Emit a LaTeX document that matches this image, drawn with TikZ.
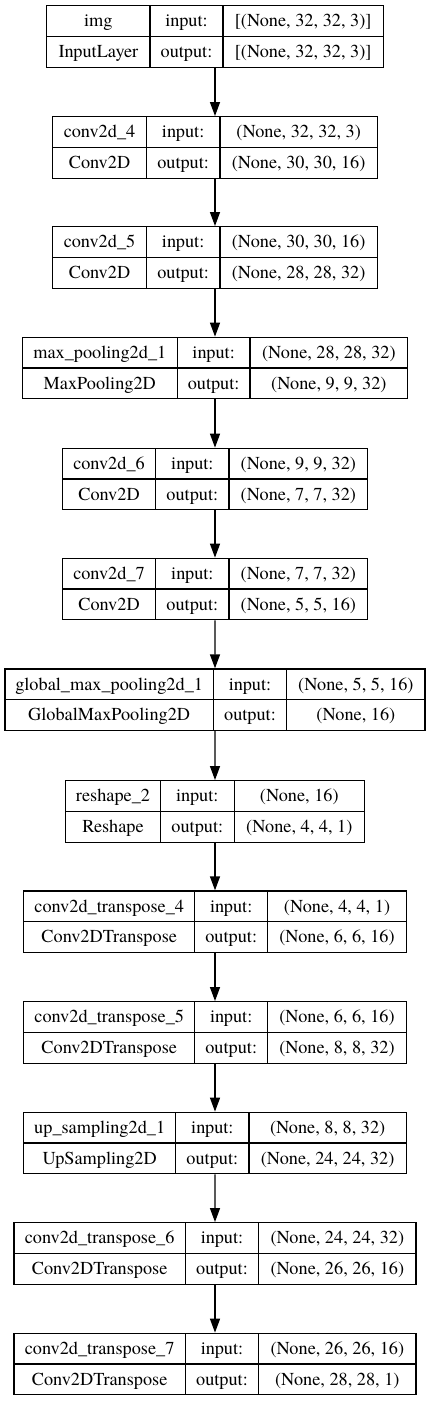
\documentclass[tikz,border=0pt]{standalone}
\usepackage{fontspec}
\setmainfont{texgyretermes-regular.otf}
\usetikzlibrary{arrows.meta,fit}

% #1 name, #2 top, #3 left, #4 first divider, #5 second divider,
% #6 layer name, #7 layer class, #8 input shape, #9 output shape
\newcommand{\kerasbox}[9]{%
    \node[layer, fit={({#3},{#2}) ({430-#3},{#2+61.5})}] (#1) {};
    \draw[grid] ({#3},{#2+30.75}) -- ({430-#3},{#2+30.75});
    \draw[grid] ({#4},{#2}) -- ({#4},{#2+61.5});
    \draw[grid] ({#5},{#2}) -- ({#5},{#2+61.5});
    \node[cell] (#1-n) at ({(#3+#4)/2},{#2+21}) {#6};
    \node[cell] (#1-c) at ({(#3+#4)/2},{#2+51.7}) {#7};
    \node[cell] (#1-i) at ({(#4+#5)/2},{#2+21}) {input:};
    \node[cell] (#1-o) at ({(#4+#5)/2},{#2+51.7}) {output:};
    \node[cell] (#1-iv) at ({(#5+430-#3)/2},{#2+21}) {#8};
    \node[cell] (#1-ov) at ({(#5+430-#3)/2},{#2+51.7}) {#9};
}

\begin{document}
\begin{tikzpicture}[
        x=0.75pt, y=-0.75pt,
        layer/.style={draw, line width=1pt, inner sep=0pt},
        grid/.style={line width=1pt},
        cell/.style={anchor=base, inner sep=0pt, font=\fontsize{13.7}{17}\selectfont},
        >={Triangle[length=10.5pt,width=7.5pt]}
    ]
    \useasboundingbox (0,0) rectangle (431,1401);

    \kerasbox{img}{5.7}{46.7}{150}{223}{img}{InputLayer}{[(None, 32, 32, 3)]}{[(None, 32, 32, 3)]}
    \kerasbox{conv4}{116.7}{52.7}{146.3}{220}{conv2d\_4}{Conv2D}{(None, 32, 32, 3)}{(None, 30, 30, 16)}
    \kerasbox{conv5}{226.7}{52.7}{146.3}{220}{conv2d\_5}{Conv2D}{(None, 30, 30, 16)}{(None, 28, 28, 32)}
    \kerasbox{maxpool}{337.3}{22.3}{177.3}{250}{max\_pooling2d\_1}{MaxPooling2D}{(None, 28, 28, 32)}{(None, 9, 9, 32)}
    \kerasbox{conv6}{448.3}{62.3}{155.7}{229}{conv2d\_6}{Conv2D}{(None, 9, 9, 32)}{(None, 7, 7, 32)}
    \kerasbox{conv7}{558.3}{62.3}{155.7}{229}{conv2d\_7}{Conv2D}{(None, 7, 7, 32)}{(None, 5, 5, 16)}
    \kerasbox{gmaxpool}{669}{5}{213.3}{286.7}{global\_max\_pooling2d\_1}{GlobalMaxPooling2D}{(None, 5, 5, 16)}{(None, 16)}
    \kerasbox{reshape}{780.7}{65.7}{160.3}{234.3}{reshape\_2}{Reshape}{(None, 16)}{(None, 4, 4, 1)}
    \kerasbox{convt4}{891}{23.7}{194.7}{267.7}{conv2d\_transpose\_4}{Conv2DTranspose}{(None, 4, 4, 1)}{(None, 6, 6, 16)}
    \kerasbox{convt5}{1001.7}{23.7}{194.7}{267.7}{conv2d\_transpose\_5}{Conv2DTranspose}{(None, 6, 6, 16)}{(None, 8, 8, 32)}
    \kerasbox{upsample}{1112.3}{23.7}{175.7}{249}{up\_sampling2d\_1}{UpSampling2D}{(None, 8, 8, 32)}{(None, 24, 24, 32)}
    \kerasbox{convt6}{1222.7}{14}{185.3}{258.7}{conv2d\_transpose\_6}{Conv2DTranspose}{(None, 24, 24, 32)}{(None, 26, 26, 16)}
    \kerasbox{convt7}{1333.3}{14}{185.3}{258.7}{conv2d\_transpose\_7}{Conv2DTranspose}{(None, 26, 26, 16)}{(None, 28, 28, 1)}

    \draw[->, line width=1pt] (img) -- (conv4);
    \draw[->, line width=1pt] (conv4) -- (conv5);
    \draw[->, line width=1pt] (conv5) -- (maxpool);
    \draw[->, line width=1pt] (maxpool) -- (conv6);
    \draw[->, line width=1pt] (conv6) -- (conv7);
    \draw[->, line width=1pt] (conv7) -- (gmaxpool);
    \draw[->, line width=1pt] (gmaxpool) -- (reshape);
    \draw[->, line width=1pt] (reshape) -- (convt4);
    \draw[->, line width=1pt] (convt4) -- (convt5);
    \draw[->, line width=1pt] (convt5) -- (upsample);
    \draw[->, line width=1pt] (upsample) -- (convt6);
    \draw[->, line width=1pt] (convt6) -- (convt7);
\end{tikzpicture}
\end{document}
